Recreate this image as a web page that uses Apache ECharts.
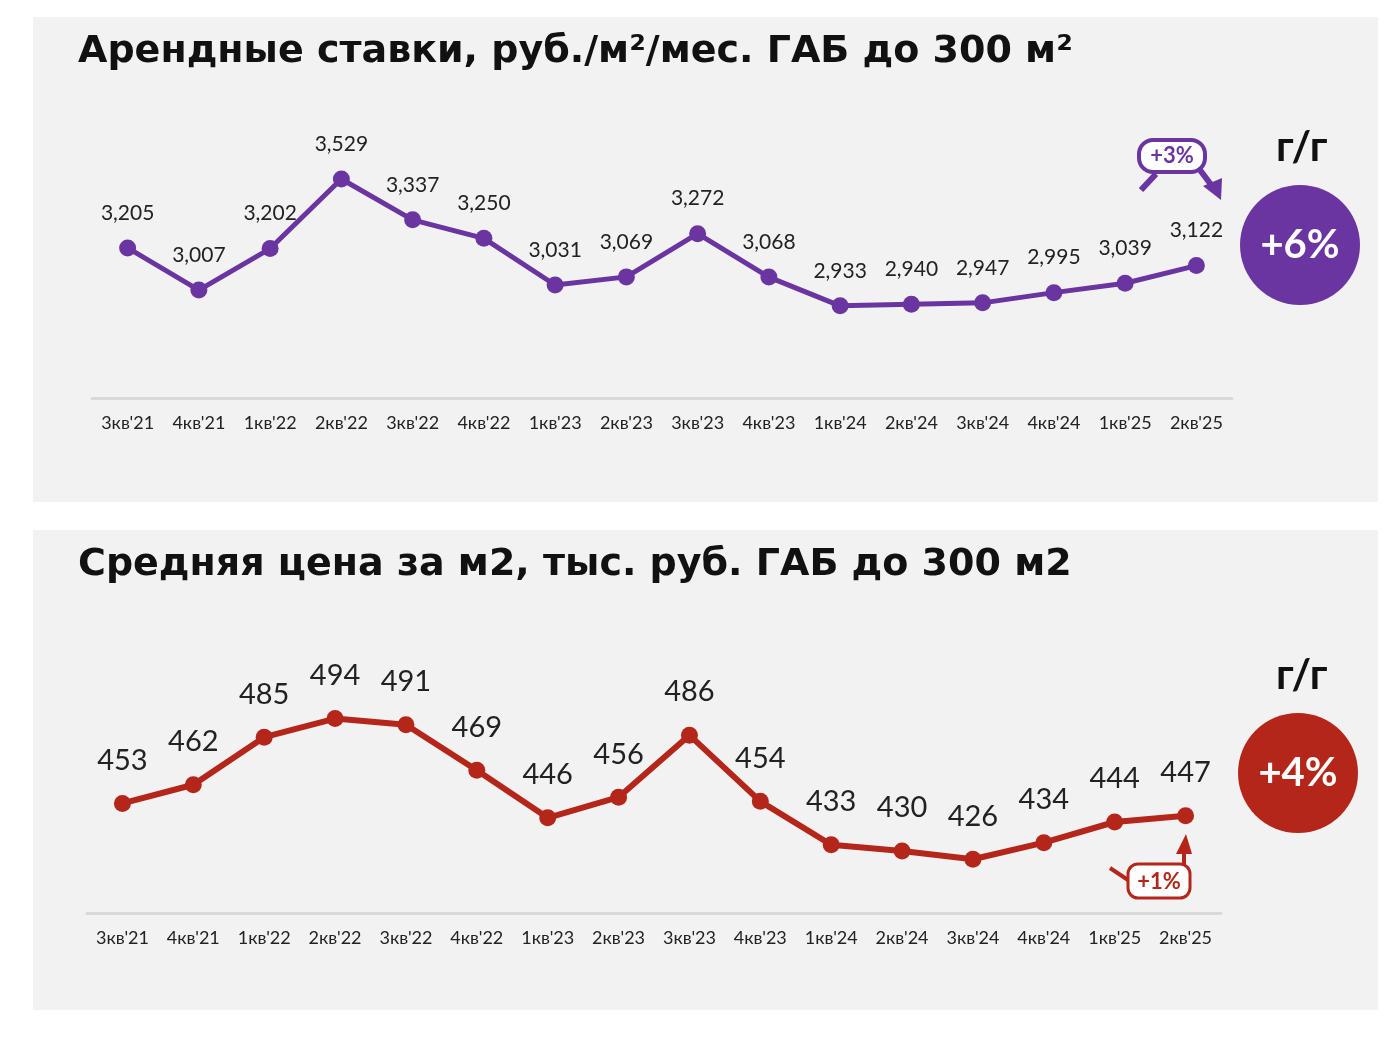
<!DOCTYPE html>
<html>
<head>
<meta charset="utf-8">
<script src="https://cdn.jsdelivr.net/npm/echarts@6/dist/echarts.min.js"></script>
<style>html,body{margin:0;padding:0;background:#fff}#c{width:1400px;height:1044px}</style>
</head>
<body>
<div id="c"></div>
<script>
// данные
const quarters = ["3кв'21","4кв'21","1кв'22","2кв'22","3кв'22","4кв'22","1кв'23","2кв'23","3кв'23","4кв'23","1кв'24","2кв'24","3кв'24","4кв'24","1кв'25","2кв'25"];
const rentRates = [3205,3007,3202,3529,3337,3250,3031,3069,3272,3068,2933,2940,2947,2995,3039,3122];
const avgPrice = [453,462,485,494,491,469,446,456,486,454,433,430,426,434,444,447];

const purple = '#6a35a0';
const red = '#b5261a';
const font = 'Lato, "Noto Sans", sans-serif';
const titleFont = 'bold 38px "DejaVu Sans", sans-serif';

let chart = echarts.init(document.getElementById('c'));

const axisCommon = {
  type: 'category',
  data: quarters,
  boundaryGap: true,
  axisLine: { show: true, lineStyle: { color: '#d9d9d9', width: 3 } },
  axisTick: { show: false },
  axisLabel: { color: '#222', fontSize: 18, margin: 16, fontFamily: font, interval: 0 }
};

let option = {
  animation: false,
  graphic: [
    { type: 'rect', shape: { x: 33, y: 17, width: 1345, height: 485 }, style: { fill: '#f2f2f2' }, z: -10 },
    { type: 'rect', shape: { x: 33, y: 530, width: 1345, height: 480 }, style: { fill: '#f2f2f2' }, z: -10 },
    { type: 'text', left: 78, top: 33, style: { text: 'Арендные ставки, руб./м²/мес. ГАБ до 300 м²', font: titleFont, fill: '#111' } },
    { type: 'text', left: 78, top: 546, style: { text: 'Средняя цена за м2, тыс. руб. ГАБ до 300 м2', font: titleFont, fill: '#111' } },
    { type: 'text', left: 1276, top: 126, style: { text: 'г/г', font: 'bold 42px ' + font, fill: '#111' } },
    { type: 'text', left: 1276, top: 654, style: { text: 'г/г', font: 'bold 42px ' + font, fill: '#111' } },
    { type: 'circle', shape: { cx: 1300, cy: 245, r: 60 }, style: { fill: purple } },
    { type: 'text', x: 1300, y: 245, style: { text: '+6%', font: 'bold 40px ' + font, fill: '#fff', align: 'center', verticalAlign: 'middle' } },
    { type: 'circle', shape: { cx: 1298, cy: 773, r: 60 }, style: { fill: red } },
    { type: 'text', x: 1298, y: 773, style: { text: '+4%', font: 'bold 40px ' + font, fill: '#fff', align: 'center', verticalAlign: 'middle' } },
    // +3% выноска
    { type: 'rect', shape: { x: 1139, y: 140, width: 66, height: 32, r: 14 }, style: { fill: '#fff', stroke: purple, lineWidth: 4 } },
    { type: 'text', x: 1172, y: 156, style: { text: '+3%', font: 'bold 22px ' + font, fill: purple, align: 'center', verticalAlign: 'middle' } },
    { type: 'polyline', shape: { points: [[1141, 190], [1156, 174]] }, style: { stroke: purple, lineWidth: 6 } },
    { type: 'polyline', shape: { points: [[1200, 170], [1212, 186]] }, style: { stroke: purple, lineWidth: 6 } },
    { type: 'polygon', shape: { points: [[1203, 186], [1222, 178], [1221, 200]] }, style: { fill: purple } },
    // +1% выноска
    { type: 'rect', shape: { x: 1128, y: 864, width: 62, height: 34, r: 10 }, style: { fill: '#fff', stroke: red, lineWidth: 3 } },
    { type: 'text', x: 1159, y: 882, style: { text: '+1%', font: 'bold 22px ' + font, fill: red, align: 'center', verticalAlign: 'middle' } },
    { type: 'polyline', shape: { points: [[1110, 868], [1128, 880]] }, style: { stroke: red, lineWidth: 4 } },
    { type: 'polyline', shape: { points: [[1184, 866], [1184, 850]] }, style: { stroke: red, lineWidth: 4 } },
    { type: 'polygon', shape: { points: [[1176, 854], [1192, 854], [1186, 834]] }, style: { fill: red } }
  ],
  grid: [
    { left: 92, right: 168, top: 100, height: 298 },
    { left: 87, right: 179, top: 640, height: 273 }
  ],
  xAxis: [
    Object.assign({ gridIndex: 0 }, axisCommon),
    Object.assign({ gridIndex: 1 }, axisCommon)
  ],
  yAxis: [
    { gridIndex: 0, type: 'value', min: 2500, max: 3900, show: false },
    { gridIndex: 1, type: 'value', min: 400, max: 532, show: false }
  ],
  series: [
    {
      type: 'line', xAxisIndex: 0, yAxisIndex: 0,
      data: rentRates,
      lineStyle: { color: purple, width: 5 },
      itemStyle: { color: purple },
      symbol: 'circle', symbolSize: 17,
      label: {
        show: true, position: 'top', distance: 16, fontSize: 21, color: '#222', fontFamily: font,
        formatter: p => String(p.value).replace(/(\d)(\d{3})$/, '$1,$2')
      }
    },
    {
      type: 'line', xAxisIndex: 1, yAxisIndex: 1,
      data: avgPrice,
      lineStyle: { color: red, width: 6 },
      itemStyle: { color: red },
      symbol: 'circle', symbolSize: 17,
      label: { show: true, position: 'top', distance: 20, fontSize: 29, color: '#222', fontFamily: font }
    }
  ]
};

chart.setOption(option);
</script>
</body>
</html>
